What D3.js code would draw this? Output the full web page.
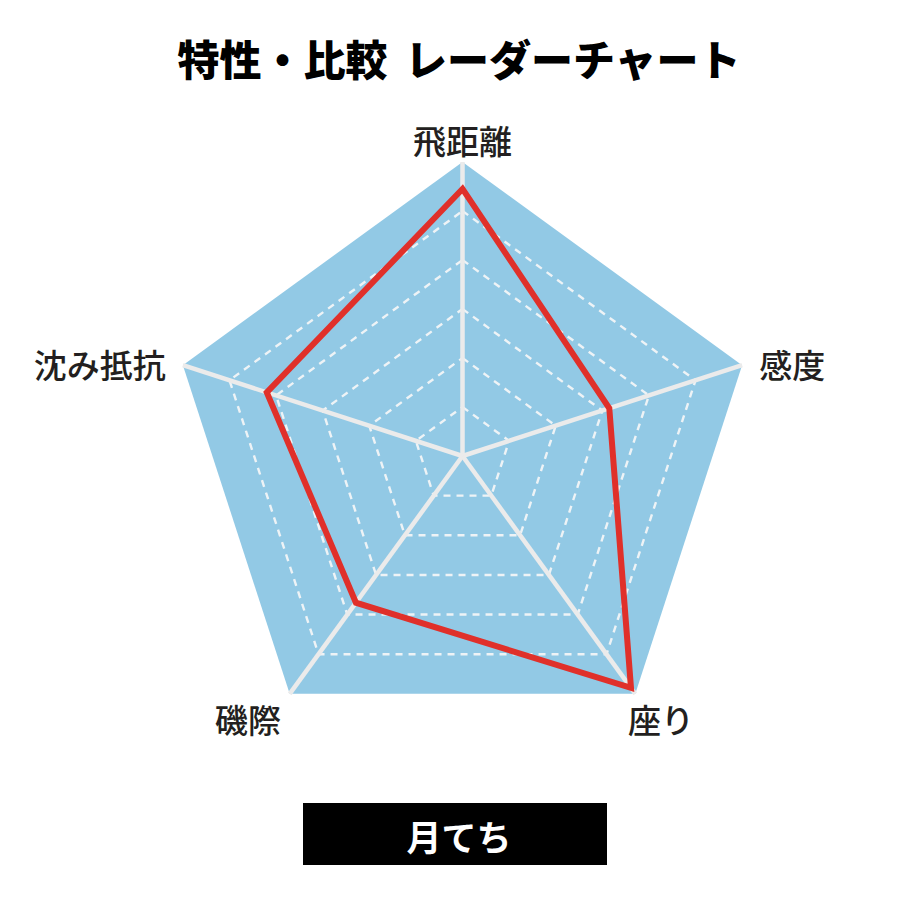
<!DOCTYPE html>
<html>
<head>
<meta charset="utf-8">
<script src="https://cdn.jsdelivr.net/npm/d3@7"></script>
<style>
  html, body { margin: 0; padding: 0; background: #fff; }
  svg { display: block; }
</style>
</head>
<body>
<svg id="grafico" width="920" height="920"></svg>
<script>
const titulo = "特性・比較 レーダーチャート";
const ejes = ["飛距離", "感度", "座り", "磯際", "沈み抵抗"];
const valores = [5.45, 3.15, 5.85, 3.7, 4.2];
const niveles = [1, 2, 3, 4, 5, 6];
const nombre = "月てち";

const svg = d3.select("#grafico");
const cx = 462.5, cy = 456, radius = 294;
const font = "'Noto Sans CJK JP', 'Noto Sans', sans-serif";

const r = d3.scaleLinear().domain([0, d3.max(niveles)]).range([0, radius]);
const ang = d3.scalePoint().domain(d3.range(ejes.length + 1)).range([0, 2 * Math.PI]);
const g = svg.append("g").attr("transform", `translate(${cx},${cy})`);

const punto = (i, v) => {
  const a = ang(i);
  return [Math.sin(a) * r(v), -Math.cos(a) * r(v)];
};
const poligono = v => ejes.map((_, i) => punto(i, v));
const linea = d3.line().curve(d3.curveLinearClosed);

svg.append("text")
  .attr("x", 459).attr("y", 76)
  .attr("text-anchor", "middle")
  .style("font-family", font).style("font-weight", 900).style("font-size", "42px")
  .style("word-spacing", "8px")
  .attr("fill", "#000")
  .text(titulo);

// fondo
g.append("path")
  .attr("d", linea(poligono(d3.max(niveles))))
  .attr("fill", "#92c9e5");

// anillos
g.selectAll(".anillo")
  .data(niveles.slice(0, -1))
  .enter()
  .append("path")
  .attr("class", "anillo")
  .attr("d", d => linea(poligono(d)))
  .attr("fill", "none")
  .attr("stroke", "#eef3f6")
  .attr("stroke-width", 2.4)
  .attr("stroke-dasharray", "7 6");

// radios
ejes.forEach((_, i) => {
  const [x, y] = punto(i, d3.max(niveles));
  g.append("line")
    .attr("x1", 0).attr("y1", 0)
    .attr("x2", x).attr("y2", y)
    .attr("stroke", "#ebebeb")
    .attr("stroke-width", 4.5);
});

// serie
g.append("path")
  .attr("d", linea(valores.map((v, i) => punto(i, v))))
  .attr("fill", "none")
  .attr("stroke", "#e0302a")
  .attr("stroke-width", 6)
  .attr("stroke-linejoin", "miter");

// etiquetas
ejes.forEach((e, i) => {
  const a = ang(i);
  const s = Math.sin(a), c = Math.cos(a);
  let d = 18, anchor = "middle", dx = 0, dy = 0;
  if (Math.abs(s) < 0.1) { d = 22; }
  else if (c < 0) { d = 37; dx = s < 0 ? -20 : 4; dy = -5; }
  else { anchor = s > 0 ? "start" : "end"; dy = 4; }
  const rr = radius + d;
  g.append("text")
    .attr("x", s * rr + dx)
    .attr("y", -c * rr + dy)
    .attr("text-anchor", anchor)
    .attr("dominant-baseline", "central")
    .style("font-family", font).style("font-weight", 500).style("font-size", "33px")
    .attr("fill", "#231f20")
    .text(e);
});

// nombre
svg.append("rect")
  .attr("x", 303).attr("y", 803)
  .attr("width", 304).attr("height", 62)
  .attr("fill", "#000");
svg.append("text")
  .attr("x", 459).attr("y", 835)
  .attr("text-anchor", "middle")
  .attr("dominant-baseline", "central")
  .style("font-family", font).style("font-weight", 700).style("font-size", "35px")
  .attr("fill", "#fff")
  .text(nombre);
</script>
</body>
</html>
